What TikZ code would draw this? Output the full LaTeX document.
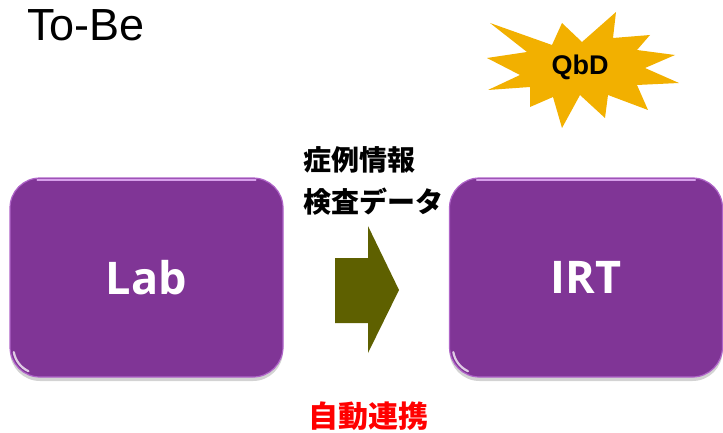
\documentclass[tikz,border=0pt]{standalone}
\usepackage{fontspec}
\setmainfont{Liberation Sans}
\newfontfamily\cjk{Noto Sans CJK JP}
\newfontfamily\boxfont{Open Sans}
\usetikzlibrary{shadows}
\definecolor{boxpurple}{RGB}{128,53,150}
\definecolor{boxedge}{RGB}{175,100,200}
\definecolor{boxhi}{RGB}{215,160,235}
\definecolor{arrowolive}{RGB}{94,96,0}
\definecolor{stargold}{RGB}{242,176,0}
\definecolor{linkred}{RGB}{255,0,0}
\tikzset{
  sysbox/.style={rectangle, rounded corners=30pt, minimum width=273pt, minimum height=199pt,
    fill=boxpurple, draw=boxedge, line width=1.2pt, inner sep=0pt,
    drop shadow={opacity=0.35, shadow xshift=0pt, shadow yshift=-4pt},
    text=white, font=\boxfont\bfseries\fontsize{45}{50}\selectfont},
  jptext/.style={font=\cjk\bfseries\fontsize{28}{32}\selectfont, inner sep=0pt, anchor=west},
  tophi/.style={boxhi, line width=1.8pt, line cap=round},
  cornerhi/.style={white, opacity=0.75, line width=2.2pt, line cap=round},
}
\begin{document}
\begin{tikzpicture}[x=1pt,y=-1pt]
\useasboundingbox (0,0) rectangle (723,433);
% title
\node[anchor=west, inner sep=0pt, font=\fontsize{45}{50}\selectfont] (title) at (27,25) {To-Be};
% star
\path[fill=stargold] (490,23) -- (552,45) -- (562,23) -- (582,42) -- (616,12) -- (613,38)
  -- (650,35) -- (637,50) -- (675,55) -- (645,68) -- (679,83) -- (637,85) -- (648,110)
  -- (608,95) -- (605,118) -- (580,95) -- (562,128) -- (553,97) -- (530,107) -- (530,87)
  -- (488,90) -- (520,75) -- (487,58) -- (527,52) -- cycle;
\node[font=\bfseries\fontsize{27}{30}\selectfont, inner sep=0pt] (qbd) at (580,67) {QbD};
% boxes
\node[sysbox] (lab) at (146.5,277.5) {Lab};
\node[sysbox] (irt) at (586,277.5) {IRT};
% highlights
\foreach \b in {lab,irt}{
  \draw[tophi] ([xshift=28pt,yshift=-2.5pt]\b.north west) -- ([xshift=-28pt,yshift=-2.5pt]\b.north east);
  \draw[cornerhi] ([xshift=4.4pt,yshift=25.5pt]\b.south west) arc[start angle=190, end angle=245, radius=26pt];
}
% labels
\node[jptext] (case) at (303,160) {症例情報};
\node[jptext] (exam) at (303,202) {検査データ};
% arrow
\coordinate (a1) at (335,258);
\coordinate (a2) at (368,258);
\coordinate (a3) at (368,226);
\coordinate (a4) at (399,290);
\coordinate (a5) at (368,353);
\coordinate (a6) at (368,323);
\coordinate (a7) at (335,323);
\fill[arrowolive] (a1) -- (a2) -- (a3) -- (a4) -- (a5) -- (a6) -- (a7) -- cycle;
% bottom label
\node[font=\cjk\bfseries\fontsize{30}{34}\selectfont, text=linkred, inner sep=0pt] (link) at (368,416) {自動連携};
\end{tikzpicture}
\end{document}
